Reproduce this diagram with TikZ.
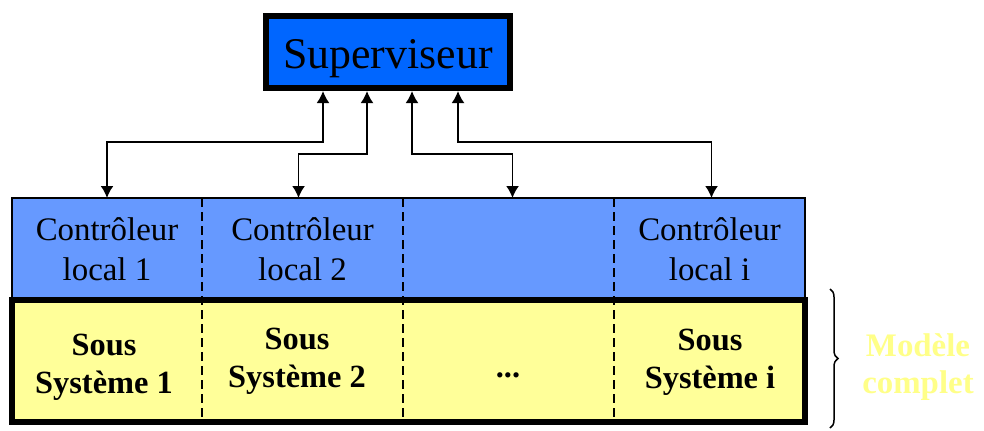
\documentclass[tikz,border=0pt]{standalone}
\usepackage{fontspec}
\setmainfont{Liberation Serif}
\usetikzlibrary{arrows.meta,decorations.pathreplacing}
\definecolor{supblue}{HTML}{0066FF}
\definecolor{ctlblue}{HTML}{6699FF}
\definecolor{sysyellow}{HTML}{FFFF99}
\definecolor{modyellow}{HTML}{FFFF88}
\begin{document}
\begin{tikzpicture}[x=1bp,y=-1bp,
  supbox/.style={draw, line width=6bp, fill=supblue, minimum width=244bp, minimum height=72bp,
    inner sep=0pt, text height=36bp, text depth=4bp, font=\fontsize{44}{50}\selectfont},
  ctlbox/.style={draw, line width=1.2bp, fill=ctlblue, minimum width=793bp, minimum height=102bp, inner sep=0pt},
  sysbox/.style={draw, line width=5.5bp, fill=sysyellow, minimum width=793bp, minimum height=122bp, inner sep=0pt},
  cell/.style={minimum height=102bp, inner sep=0pt, outer sep=0pt, align=center, font=\fontsize{33}{40}\selectfont},
  systext/.style={align=center, inner sep=0pt, font=\bfseries\fontsize{32.5}{38}\selectfont},
  conn/.style={line width=1.8bp, {Latex[length=12bp,width=13bp]}-{Latex[length=12bp,width=13bp]}},
  divider/.style={line width=1.3bp, dash pattern=on 9bp off 5bp},
  bracestyle/.style={line width=1.5bp, decorate, decoration={brace, amplitude=8bp}}
]
\useasboundingbox (0,0) rectangle (984,430);

% supervisor
\node[supbox] (sup) at (388,52) {Superviseur};

% controller row
\node[ctlbox] (ctl) at (408.5,249) {};
\node[cell, minimum width=190bp] (c1) at (107,249) {Contrôleur\\local 1};
\node[cell, minimum width=201bp] (c2) at (302.5,249) {Contrôleur\\local 2};
\node[cell, minimum width=211bp] (c3) at (508.5,249) {};
\node[cell, minimum width=191bp] (c4) at (709.5,249) {Contrôleur\\local i};

% subsystem row
\node[sysbox] (sys) at (408.5,361) {};
\node[systext] (s1) at (104,367) {Sous\\Système 1};
\node[systext] (s2) at (297,361) {Sous\\Système 2};
\node[systext, anchor=base] (s3) at (508,377) {...};
\node[systext] (s4) at (710,362) {Sous\\Système i};

% dashed dividers
\draw[divider] (c1.north east) -- (c1.north east |- sys.south);
\draw[divider] (c2.north east) -- (c2.north east |- sys.south);
\draw[divider] (c3.north east) -- (c3.north east |- sys.south);
\node[sysbox, fill=none] (sysborder) at (408.5,361) {};

% connectors
\draw[conn] ([xshift=-65bp]sup.south) -- ++(0,51) -| (c1.north);
\draw[conn] ([xshift=-21bp]sup.south) -- ++(0,63) -| ([xshift=-4bp]c2.north);
\draw[conn] ([xshift=24bp]sup.south) -- ++(0,63) -| ([xshift=4bp]c3.north);
\draw[conn] ([xshift=70bp]sup.south) -- ++(0,51) -| ([xshift=2bp]c4.north);

% brace and label
\draw[bracestyle] (830,289) -- (830,428);
\node[systext, font=\bfseries\fontsize{33}{38}\selectfont, text=modyellow] (mod) at (918,367) {Modèle\\complet};
\end{tikzpicture}
\end{document}
